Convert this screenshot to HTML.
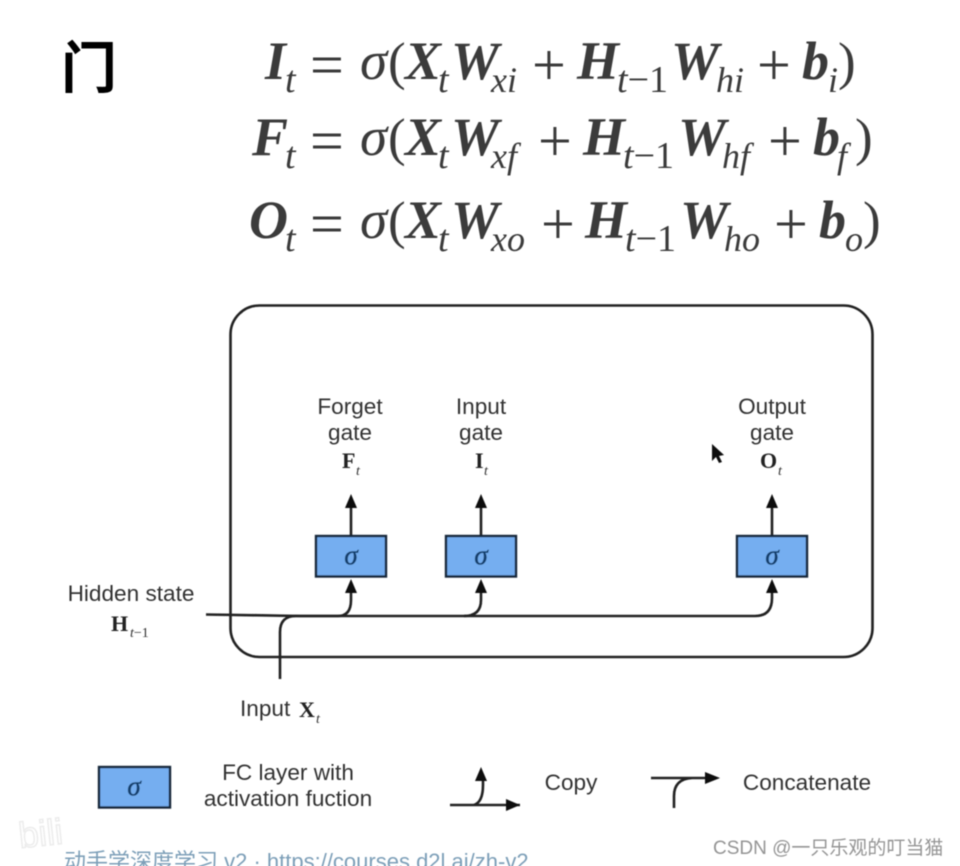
<!DOCTYPE html>
<html><head><meta charset="utf-8"><style>
html,body{margin:0;padding:0;background:#fff;width:960px;height:866px;overflow:hidden}
svg{display:block}
.m{font-family:"Liberation Serif",serif;fill:#3a3a3a}
.B{font-size:54px;font-weight:bold;font-style:italic}
.N{font-size:53px}
.O{font-size:60px}
.S{font-size:36px;font-style:italic}
.T{font-size:38px;font-style:italic}
.U{font-style:normal}
.s{font-size:55px;font-style:italic}
.l{font-family:"Liberation Sans",sans-serif;font-size:22.600px;fill:#333;text-anchor:middle}
.v{font-family:"Liberation Serif",serif;font-weight:bold;font-size:22px;fill:#222}
.i{font-family:"Liberation Serif",serif;font-style:italic;font-size:14px;fill:#333}
.g{font-family:"Liberation Serif",serif;font-style:italic;font-size:27px;fill:#12406e;stroke:#12406e;stroke-width:.6;text-anchor:middle}
.c{fill:none;stroke:#222;stroke-width:2.6}
</style></head><body>
<svg width="960" height="866" viewBox="0 0 960 866" xmlns="http://www.w3.org/2000/svg">
<defs><filter id="b" x="-5%" y="-5%" width="110%" height="110%"><feGaussianBlur stdDeviation="0.55"/></filter></defs>
<rect width="960" height="866" fill="#fff"/>
<g filter="url(#b)">
<text x="61" y="88" font-family="'Noto Sans CJK SC',sans-serif" font-size="56" font-weight="700" fill="#000">门</text>

<g class="m">
<text class="B" x="265" y="79">I</text><text class="T" x="285" y="92">t</text>
<text class="O" x="310" y="85">=</text><text class="s" x="360" y="79">σ</text><text class="N" x="388" y="79">(</text>
<text class="B" x="405" y="79">X</text><text class="T" x="438" y="92">t</text><text class="B" x="451" y="79">W</text>
<text class="S" x="491" y="92">xi</text><text class="O" x="532" y="85">+</text><text class="B" x="577" y="79">H</text>
<text class="T" x="617" y="92">t<tspan class="U">−1</tspan></text><text class="B" x="671" y="79">W</text><text class="S" x="716" y="92">hi</text>
<text class="O" x="757" y="85">+</text><text class="B" x="802" y="79">b</text><text class="S" x="828" y="92">i</text><text class="N" x="838" y="79">)</text>

<text class="B" x="252" y="155">F</text><text class="T" x="285" y="168">t</text>
<text class="O" x="310" y="161">=</text><text class="s" x="360" y="155">σ</text><text class="N" x="388" y="155">(</text>
<text class="B" x="405" y="155">X</text><text class="T" x="438" y="168">t</text><text class="B" x="451" y="155">W</text>
<text class="S" x="491" y="168">xf</text><text class="O" x="538" y="161">+</text><text class="B" x="583" y="155">H</text>
<text class="T" x="623" y="168">t<tspan class="U">−1</tspan></text><text class="B" x="678" y="155">W</text><text class="S" x="722" y="168">hf</text>
<text class="O" x="768" y="161">+</text><text class="B" x="813" y="155">b</text><text class="S" x="837" y="168">f</text><text class="N" x="855" y="155">)</text>

<text class="B" x="249" y="238">O</text><text class="T" x="285" y="251">t</text>
<text class="O" x="310" y="244">=</text><text class="s" x="360" y="238">σ</text><text class="N" x="388" y="238">(</text>
<text class="B" x="405" y="238">X</text><text class="T" x="438" y="251">t</text><text class="B" x="451" y="238">W</text>
<text class="S" x="491" y="251">xo</text><text class="O" x="541" y="244">+</text><text class="B" x="585" y="238">H</text>
<text class="T" x="625" y="251">t<tspan class="U">−1</tspan></text><text class="B" x="680" y="238">W</text><text class="S" x="724" y="251">ho</text>
<text class="O" x="774" y="244">+</text><text class="B" x="819" y="238">b</text><text class="S" x="845" y="251">o</text><text class="N" x="863" y="238">)</text>
</g>

<rect x="230.500" y="305.500" width="642" height="351.500" rx="29" class="c"/>

<g class="l">
<text x="350" y="414">Forget</text><text x="350" y="440">gate</text>
<text x="481" y="414">Input</text><text x="481" y="440">gate</text>
<text x="772" y="414">Output</text><text x="772" y="440">gate</text>
<text x="131" y="601">Hidden state</text>
<text x="240" y="716" style="text-anchor:start">Input</text>
<text x="288" y="780">FC layer with</text><text x="288" y="806">activation fuction</text>
<text x="571" y="790">Copy</text><text x="807" y="790">Concatenate</text>
</g>

<text class="v" x="342" y="468">F</text><text class="i" x="356" y="475">t</text>
<text class="v" x="475" y="468">I</text><text class="i" x="484" y="475">t</text>
<text class="v" x="760" y="468">O</text><text class="i" x="778" y="475">t</text>
<text class="v" x="111" y="631">H</text><text class="i" x="130" y="637">t<tspan style="font-style:normal">−1</tspan></text>
<text class="v" x="299" y="717" font-size="23">X</text><text class="i" x="316" y="723">t</text>

<g fill="#74aef0" stroke="#15253a" stroke-width="2.4">
<rect x="316" y="536" width="70" height="40.500"/>
<rect x="446" y="536" width="70" height="40.500"/>
<rect x="737" y="536" width="70" height="40.500"/>
<rect x="99" y="767" width="71" height="40.500"/>
</g>
<text class="g" x="351" y="564">σ</text><text class="g" x="481" y="564">σ</text><text class="g" x="772" y="564">σ</text><text class="g" x="134" y="795">σ</text>

<g class="c">
<path d="M351 535V502M481 535V502M772 535V502"/>
<path d="M206 614.500L300 616H755Q772 616 772 598V590"/>
<path d="M280 679V632Q280 616 296 616H338Q351 616 351 600V590"/>
<path d="M464 616Q481 616 481 600V590"/>
<path d="M450 805H520M474 805Q483 802 483 785V778"/>
<path d="M651 778H708M674 808V796Q674 779 692 778"/>
</g>
<g fill="#111">
<path d="M351 494l-6 14h12zM481 494l-6 14h12zM772 494l-6 14h12z"/>
<path d="M351 579l-6 14h12zM481 579l-6 14h12zM772 579l-6 14h12z"/>
<path d="M481 767l-6 14h12z"/>
<path d="M520 805l-14-6v12z"/>
<path d="M720 778l-15-6v12z"/>
<path d="M712 444l0 17 4-4 3 6 3-1-3-6 5-1z"/>
</g>

<text x="64" y="869" font-family="'Liberation Sans','Noto Sans CJK SC',sans-serif" font-size="22" fill="#7d9fb8">动手学深度学习 v2 · https://courses.d2l.ai/zh-v2</text>
<text x="713" y="854" font-family="'Liberation Sans','Noto Sans CJK SC',sans-serif" font-size="19" fill="#949494">CSDN @一只乐观的叮当猫</text>
<text x="20" y="848" font-family="'Liberation Sans',sans-serif" font-size="36" fill="none" stroke="#ececec" stroke-width="1.500" transform="rotate(-6 20 848)">bili</text>
</g>
</svg>
</body></html>
